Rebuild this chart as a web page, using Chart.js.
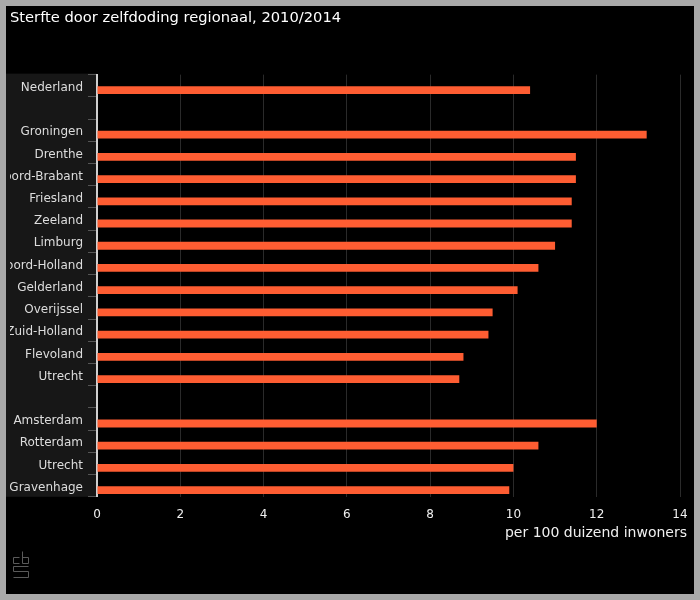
<!DOCTYPE html>
<html>
<head>
<meta charset="utf-8">
<script src="https://cdn.jsdelivr.net/npm/chart.js@4"></script>
<style>
  html, body { margin: 0; padding: 0; background: #a9a9a9; }
  #wrap { position: absolute; left: 6px; top: 6px; width: 688px; height: 588px; background: #000; }
</style>
</head>
<body>
<div id="wrap"><canvas id="chart" width="688" height="588"></canvas></div>
<script>
// Sterfte door zelfdoding per 100 duizend inwoners, 2010/2014
const regions = [
  "Nederland", "",
  "Groningen", "Drenthe", "Noord-Brabant", "Friesland", "Zeeland", "Limburg",
  "Noord-Holland", "Gelderland", "Overijssel", "Zuid-Holland", "Flevoland", "Utrecht", "",
  "Amsterdam", "Rotterdam", "Utrecht", "'s-Gravenhage",
];
const rates = [
  10.4, null,
  13.2, 11.5, 11.5, 11.4, 11.4, 11.0,
  10.6, 10.1, 9.5, 9.4, 8.8, 8.7, null,
  12.0, 10.6, 10.0, 9.9,
];
const xTicks = [0, 2, 4, 6, 8, 10, 12, 14];

const FONT = "'DejaVu Sans', sans-serif";

// dark panel behind the region names + small cbs mark
const panelPlugin = {
  id: "panel",
  beforeDraw(chart) {
    const { ctx, chartArea } = chart;
    ctx.save();
    ctx.fillStyle = "#171717";
    ctx.fillRect(0, chartArea.top - 1, chartArea.left, chartArea.bottom - chartArea.top + 1);
    ctx.restore();
  },
  afterDraw(chart) {
    const ctx = chart.ctx;
    ctx.save();
    ctx.strokeStyle = "#5a5a5a";
    ctx.lineWidth = 1;
    ctx.beginPath();
    // c
    ctx.moveTo(13.5, 551.5); ctx.lineTo(7.5, 551.5); ctx.lineTo(7.5, 557.5); ctx.lineTo(13.5, 557.5);
    // b
    ctx.moveTo(16.5, 545.5); ctx.lineTo(16.5, 557.5); ctx.lineTo(22.5, 557.5); ctx.lineTo(22.5, 551.5); ctx.lineTo(16.5, 551.5);
    // s
    ctx.moveTo(22.5, 560.5); ctx.lineTo(7.5, 560.5); ctx.lineTo(7.5, 565.5); ctx.lineTo(22.5, 565.5);
    ctx.lineTo(22.5, 571.5); ctx.lineTo(7.5, 571.5);
    ctx.stroke();
    ctx.restore();
  },
};

new Chart(document.getElementById("chart"), {
  type: "bar",
  data: {
    labels: regions,
    datasets: [
      // empty first slot so the bars sit in the lower part of each row
      { data: regions.map(() => null), backgroundColor: "transparent" },
      { data: rates, backgroundColor: "#fe5d32", borderWidth: 0 },
    ],
  },
  options: {
    indexAxis: "y",
    responsive: false,
    animation: false,
    categoryPercentage: 0.8,
    barPercentage: 0.88,
    layout: { padding: { left: 4, right: 7, top: 0, bottom: 52 } },
    plugins: {
      legend: { display: false },
      tooltip: { enabled: false },
      title: {
        display: true,
        text: "Sterfte door zelfdoding regionaal, 2010/2014",
        align: "start",
        color: "#ffffff",
        font: { family: FONT, size: 14.7, weight: "normal" },
        padding: { top: 3, bottom: 48 },
      },
      subtitle: {
        display: true,
        position: "bottom",
        text: "per 100 duizend inwoners",
        align: "end",
        color: "#f0f0f0",
        font: { family: FONT, size: 14, weight: "normal" },
        padding: { top: -8, bottom: 0 },
      },
    },
    scales: {
      x: {
        min: 0,
        max: 14,
        afterBuildTicks: (scale) => {
          scale.ticks = xTicks.map((v) => ({ value: v }));
        },
        afterFit: (scale) => {
          scale.paddingRight = 14;
        },
        ticks: {
          color: "#f0f0f0",
          padding: 11,
          font: { family: FONT, size: 12 },
        },
        grid: { color: "#2a2a2a", drawTicks: false },
        border: { display: false },
      },
      y: {
        afterFit: (scale) => {
          scale.width = 87;
        },
        ticks: {
          color: "#dddddd",
          padding: 5,
          labelOffset: 2,
          autoSkip: false,
          font: { family: FONT, size: 12 },
        },
        grid: {
          drawOnChartArea: false,
          drawTicks: true,
          tickLength: 9,
          color: "#555555",
        },
        border: { display: true, color: "#d0d0d0", width: 2 },
      },
    },
  },
  plugins: [panelPlugin],
});
</script>
</body>
</html>
